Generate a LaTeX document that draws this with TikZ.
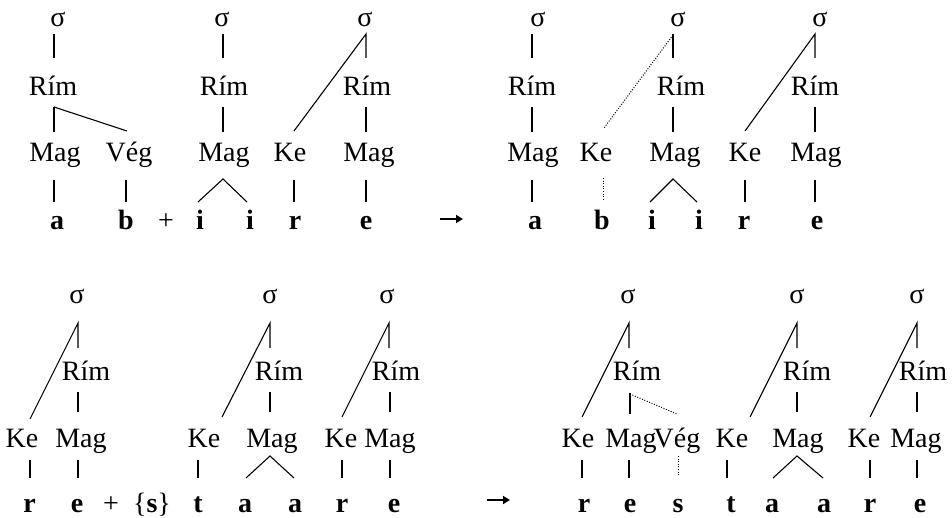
\documentclass[tikz,border=0pt]{standalone}
\usepackage{fontspec}
\setmainfont{Liberation Serif}
\usetikzlibrary{arrows.meta}
\begin{document}
\begin{tikzpicture}[x=1pt,y=-1pt,
  lab/.style={anchor=base,inner sep=0pt,font=\fontsize{28}{30}\selectfont},
  sg/.style={anchor=base,inner sep=0pt,font=\fontsize{28}{30}\selectfont\bfseries},
  br/.style={line width=1.1pt},
  dot/.style={line width=1pt,dash pattern=on 1pt off 1.6pt},
  arr/.style={line width=2pt,-{Triangle[length=7pt,width=8pt]}}]
\useasboundingbox (0,0) rectangle (952,518);
% ---------------- Row 1 ----------------
% tree A
\node[lab] (As) at (58,27) {σ};
\node[lab] (Ar) at (53,96) {Rím};
\node[lab] (Am) at (55,162) {Mag};
\node[lab] (Av) at (129,162) {Vég};
\node[sg] (Aa) at (57,230) {a};
\node[sg] (Ab) at (126,230) {b};
\draw[br] (54,34) -- (54,58);
\draw[br] (54,107) -- (54,132);
\draw[br] (54,107) -- (127,131);
\draw[br] (54,180) -- (54,202);
\draw[br] (126,180) -- (126,202);
\node[lab] (plus1) at (166,230) {+};
% tree B
\node[lab] (Bs) at (222,27) {σ};
\node[lab] (Br) at (224,96) {Rím};
\node[lab] (Bm) at (224,162) {Mag};
\node[sg] (Bi1) at (200,230) {i};
\node[sg] (Bi2) at (250,230) {i};
\draw[br] (223,34) -- (223,58);
\draw[br] (223,107) -- (223,132);
\draw[br] (198,202) -- (223,179) -- (247,202);
% tree C
\node[lab] (Cs) at (365,27) {σ};
\node[lab] (Cr) at (367,96) {Rím};
\node[lab] (Ck) at (290,162) {Ke};
\node[lab] (Cm) at (369,162) {Mag};
\node[sg] (Cr2) at (295,230) {r};
\node[sg] (Ce) at (366,230) {e};
\draw[br] (294,131) -- (366,34) -- (366,58);
\draw[br] (366,107) -- (366,132);
\draw[br] (366,180) -- (366,202);
\draw[br] (294,180) -- (294,202);
% arrow 1
\coordinate (ar1a) at (440,219);
\coordinate (ar1b) at (463,219);
\draw[arr] (ar1a) -- (ar1b);
% tree D
\node[lab] (Ds) at (538,27) {σ};
\node[lab] (Dr) at (532,96) {Rím};
\node[lab] (Dm) at (533,162) {Mag};
\node[lab] (Dk) at (596,162) {Ke};
\node[sg] (Da) at (535,230) {a};
\node[sg] (Db) at (602,230) {b};
\draw[br] (532,34) -- (532,58);
\draw[br] (532,107) -- (532,132);
\draw[br] (532,180) -- (532,202);
\draw[dot] (603,178) -- (603,200);
% tree E1
\node[lab] (Es) at (678,27) {σ};
\node[lab] (Er) at (681,96) {Rím};
\node[lab] (Em) at (675,162) {Mag};
\node[sg] (Ei1) at (652,230) {i};
\node[sg] (Ei2) at (699,230) {i};
\draw[br] (673,34) -- (673,58);
\draw[dot] (673,35) -- (604,128);
\draw[br] (673,107) -- (673,132);
\draw[br] (650,202) -- (673,179) -- (697,202);
% tree F1
\node[lab] (Fs) at (820,27) {σ};
\node[lab] (Fr) at (815,96) {Rím};
\node[lab] (Fk) at (745,162) {Ke};
\node[lab] (Fm) at (816,162) {Mag};
\node[sg] (Fr2) at (744,230) {r};
\node[sg] (Fe) at (817,230) {e};
\draw[br] (745,131) -- (815,34) -- (815,58);
\draw[br] (815,107) -- (815,132);
\draw[br] (815,180) -- (815,202);
\draw[br] (745,180) -- (745,202);
% ---------------- Row 2 ----------------
% tree G
\node[lab] (Gs) at (77,303) {σ};
\node[lab] (Gr) at (86,380) {Rím};
\node[lab] (Gk) at (22,447) {Ke};
\node[lab] (Gm) at (81,447) {Mag};
\node[sg] (Gr2) at (29.5,512) {r};
\node[sg] (Ge) at (77,512) {e};
\draw[br] (30,419) -- (78,323) -- (78,348);
\draw[br] (78,392) -- (78,412);
\draw[br] (30,460) -- (30,478);
\draw[br] (78,460) -- (78,478);
\node[lab] (plus2) at (111,512) {+};
\node[lab] (Sset) at (152,512) {\{\textbf{s}\}};
% tree H
\node[lab] (Hs) at (270,303) {σ};
\node[lab] (Hr) at (279,380) {Rím};
\node[lab] (Hk) at (204,447) {Ke};
\node[lab] (Hm) at (272,447) {Mag};
\node[sg] (Ht) at (198,512) {t};
\node[sg] (Ha1) at (245,512) {a};
\node[sg] (Ha2) at (295,512) {a};
\draw[br] (222,417) -- (270,323) -- (270,348);
\draw[br] (270,392) -- (270,412);
\draw[br] (198,460) -- (198,478);
\draw[br] (246,478) -- (270,456) -- (294,478);
% tree I
\node[lab] (Is) at (387,303) {σ};
\node[lab] (Ir) at (396,380) {Rím};
\node[lab] (Ik) at (341,447) {Ke};
\node[lab] (Im) at (390,447) {Mag};
\node[sg] (Ir2) at (342,512) {r};
\node[sg] (Ie) at (394,512) {e};
\draw[br] (342,417) -- (389,323) -- (389,348);
\draw[br] (390,392) -- (390,412);
\draw[br] (342,460) -- (342,478);
\draw[br] (390,460) -- (390,478);
% arrow 2
\coordinate (ar2a) at (487,500);
\coordinate (ar2b) at (510,500);
\draw[arr] (ar2a) -- (ar2b);
% tree J
\node[lab] (Js) at (628,303) {σ};
\node[lab] (Jr) at (637,380) {Rím};
\node[lab] (Jk) at (578,447) {Ke};
\node[lab] (Jm) at (631,447) {Mag};
\node[lab] (Jv) at (677,447) {Vég};
\node[sg] (Jr2) at (584,512) {r};
\node[sg] (Je) at (630,512) {e};
\node[sg] (Js2) at (678,512) {s};
\draw[br] (582,417) -- (629,323) -- (629,348);
\draw[br] (630,393) -- (630,414);
\draw[dot] (630,394) -- (677,414);
\draw[br] (582,460) -- (582,478);
\draw[br] (629,460) -- (629,478);
\draw[dot] (678,456) -- (678,476);
% tree K
\node[lab] (Kk) at (732,447) {Ke};
\node[sg] (Kt) at (731,512) {t};
\node[lab] (Ks) at (797,303) {σ};
\node[lab] (Kr) at (807,380) {Rím};
\node[lab] (Km) at (798,447) {Mag};
\node[sg] (Ka1) at (772,512) {a};
\node[sg] (Ka2) at (824,512) {a};
\draw[br] (727,460) -- (727,478);
\draw[br] (750,417) -- (797,323) -- (797,348);
\draw[br] (797,392) -- (797,412);
\draw[br] (773,478) -- (797,456) -- (823,478);
% tree L
\node[lab] (Lk) at (864,447) {Ke};
\node[lab] (Lm) at (916,447) {Mag};
\node[lab] (Ls) at (917,303) {σ};
\node[lab] (Lr) at (923,380) {Rím};
\node[sg] (Lr2) at (870,512) {r};
\node[sg] (Le) at (920,512) {e};
\draw[br] (870,417) -- (917,323) -- (917,348);
\draw[br] (917,392) -- (917,412);
\draw[br] (870,460) -- (870,478);
\draw[br] (917,460) -- (917,478);
\end{tikzpicture}
\end{document}
